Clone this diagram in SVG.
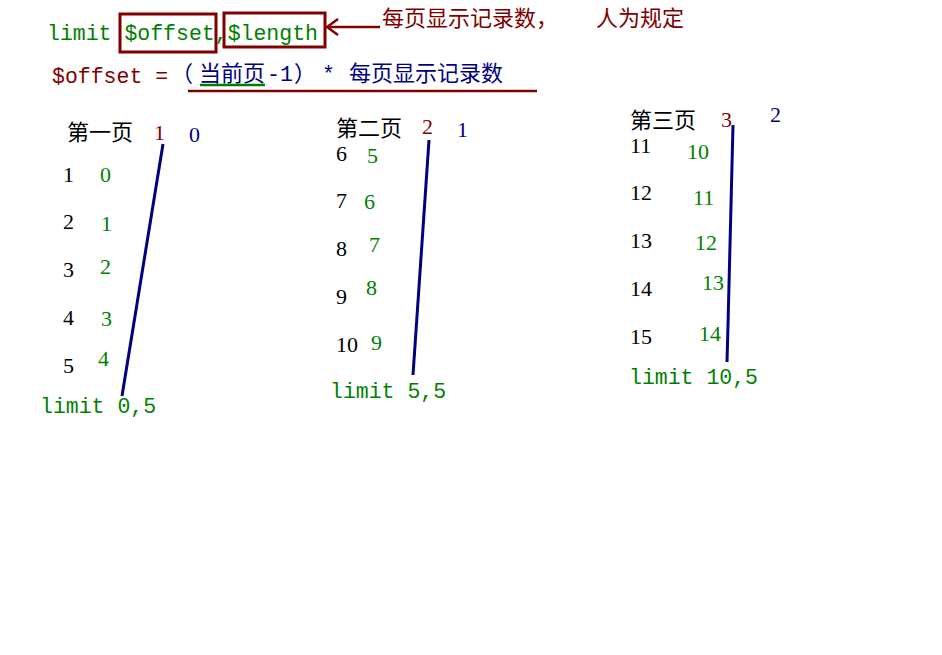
<svg xmlns="http://www.w3.org/2000/svg" width="942" height="655" viewBox="0 0 942 655">
<style>
.mono{font-family:"Liberation Mono","Noto Sans CJK SC",monospace;font-size:21.5px}
.cn{font-family:"Noto Sans CJK SC",serif;font-size:22px}
.num{font-family:"Liberation Serif",serif;font-size:22px}
.g{fill:#008000}.r{fill:#800000}.b{fill:#000080}.k{fill:#000}
.box{fill:none;stroke:#800000;stroke-width:3}
.ln{fill:none;stroke:#000080;stroke-width:3}
</style>
<defs>
<marker id="ah" markerWidth="14" markerHeight="18" refX="12" refY="9" orient="auto" markerUnits="userSpaceOnUse">
<path d="M1,1 L12,9 L1,17" fill="none" stroke="#800000" stroke-width="2.5"/>
</marker>
</defs>
<rect width="942" height="655" fill="#fff"/>
<g id="header">
<text class="mono g" x="47" y="40">limit $offset,$length</text>
<rect class="box" x="120" y="14" width="96" height="38"/>
<rect class="box" x="224" y="13" width="101" height="34"/>
<text class="cn r" x="382" y="26" font-size="21">每页显示记录数，</text>
<text class="cn r" x="596" y="26" font-size="21">人为规定</text>
</g>
<g id="formula">
<text class="mono r" x="52" y="83">$offset =</text>
<text class="cn b" x="171" y="81">（</text>
<text class="cn b" x="199" y="81" font-size="23">当前页</text>
<text class="mono b" x="267" y="81">-1</text>
<text class="cn b" x="294" y="81">）</text>
<text class="mono b" x="322" y="81">*</text>
<text class="cn b" x="349" y="81" font-size="24.5">每页显示记录数</text>
<line x1="200" y1="85" x2="265" y2="85" stroke="#008000" stroke-width="2.5"/>
<line x1="188" y1="91" x2="537" y2="91" stroke="#800000" stroke-width="2.5"/>
</g>
<g id="page1">
<text class="cn k" x="67" y="140">第一页</text>
<text class="num r" x="154" y="140">1</text>
<text class="num b" x="189" y="142">0</text>
<text class="num k" x="63" y="182">1</text><text class="num g" x="100" y="182">0</text>
<text class="num k" x="63" y="229">2</text><text class="num g" x="101" y="231">1</text>
<text class="num k" x="63" y="277">3</text><text class="num g" x="100" y="274">2</text>
<text class="num k" x="63" y="325">4</text><text class="num g" x="101" y="326">3</text>
<text class="num k" x="63" y="373">5</text><text class="num g" x="98" y="366">4</text>
<text class="mono g" x="40" y="413">limit 0,5</text>
</g>
<g id="page2">
<text class="cn k" x="336" y="136">第二页</text>
<text class="num r" x="422" y="134">2</text>
<text class="num b" x="457" y="137">1</text>
<text class="num k" x="336" y="161">6</text><text class="num g" x="367" y="163">5</text>
<text class="num k" x="336" y="208">7</text><text class="num g" x="364" y="209">6</text>
<text class="num k" x="336" y="256">8</text><text class="num g" x="369" y="252">7</text>
<text class="num k" x="336" y="304">9</text><text class="num g" x="366" y="295">8</text>
<text class="num k" x="336" y="352">10</text><text class="num g" x="371" y="350">9</text>
<text class="mono g" x="330" y="398">limit 5,5</text>
</g>
<g id="page3">
<text class="cn k" x="630" y="128">第三页</text>
<text class="num r" x="721" y="127">3</text>
<text class="num b" x="770" y="122">2</text>
<text class="num k" x="630" y="153">11</text><text class="num g" x="687" y="159">10</text>
<text class="num k" x="630" y="200">12</text><text class="num g" x="693" y="205">11</text>
<text class="num k" x="630" y="248">13</text><text class="num g" x="695" y="250">12</text>
<text class="num k" x="630" y="296">14</text><text class="num g" x="702" y="290">13</text>
<text class="num k" x="630" y="344">15</text><text class="num g" x="699" y="341">14</text>
<text class="mono g" x="629" y="384">limit 10,5</text>
</g>
<g id="connectors">
<line x1="380" y1="27" x2="327" y2="27" stroke="#800000" stroke-width="2.5" marker-end="url(#ah)"/>
<line class="ln" x1="163" y1="144" x2="122" y2="396"/>
<line class="ln" x1="429" y1="140" x2="413" y2="375"/>
<polyline class="ln" points="733,125 732,165 731,205 730,245 729,285 728,325 727,362"/>
</g>
</svg>
